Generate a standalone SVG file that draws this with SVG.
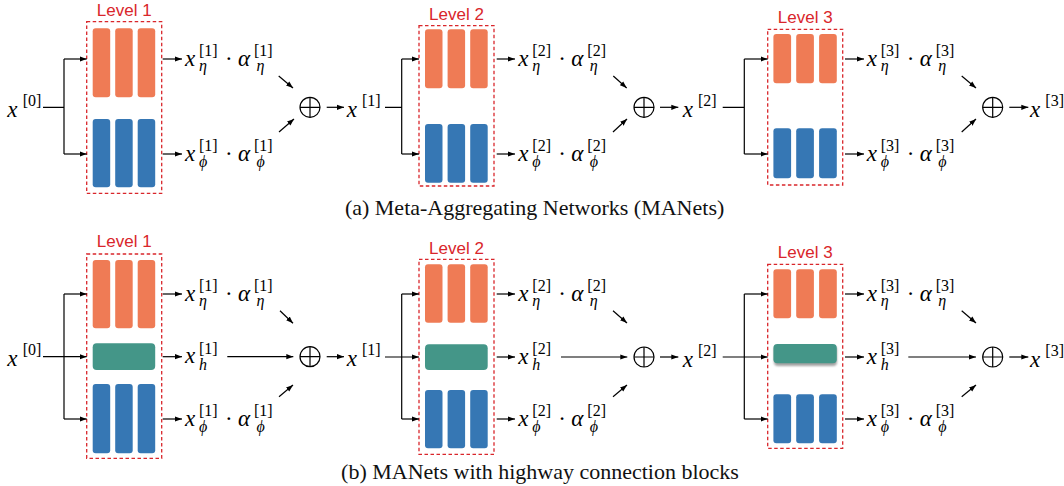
<svg xmlns="http://www.w3.org/2000/svg" width="1064" height="486" viewBox="0 0 1064 486">
<defs>
<marker id="ah" markerWidth="8" markerHeight="6" refX="7" refY="3" orient="auto" markerUnits="userSpaceOnUse"><path d="M0,0.4 L7,3 L0,5.6 z" fill="#000"/></marker>
<filter id="sh" x="-20%" y="-30%" width="140%" height="180%"><feGaussianBlur stdDeviation="1.2"/></filter>
<style>
.box{fill:none;stroke:#d9262b;stroke-width:1.3;stroke-dasharray:3.5 2.5}
.ttl{font-family:"Liberation Sans",Arial,sans-serif;font-size:17px;fill:#d9262b;text-anchor:middle}
.or{fill:#ef7b55}.bl{fill:#3677b4}.gr{fill:#449688}
.mi{font-family:"Liberation Serif","DejaVu Serif",serif;font-style:italic;font-size:23px;fill:#000}
.mr{font-family:"Liberation Serif","DejaVu Serif",serif;font-size:23px;fill:#000}
.si{font-family:"Liberation Serif","DejaVu Serif",serif;font-style:italic;font-size:16px;fill:#000}
.sr{font-family:"Liberation Serif","DejaVu Serif",serif;font-size:16px;fill:#000}
.ln{stroke:#000;stroke-width:1.2;fill:none}
.ar{marker-end:url(#ah)}
.cap{font-family:"Liberation Serif","Times New Roman",serif;font-size:22px;text-anchor:middle;fill:#111}
</style>
</defs>
<rect width="1064" height="486" fill="#fff"/>

<!-- ===== Row (a) ===== -->
<g id="a-level1">
<text class="ttl" x="124.2" y="16">Level 1</text>
<rect class="box" x="86.7" y="21.7" width="75" height="171.6"/>
<rect class="or" x="92.7" y="28.3" width="17.5" height="69" rx="3"/>
<rect class="or" x="115.2" y="28.3" width="17.5" height="69" rx="3"/>
<rect class="or" x="137.7" y="28.3" width="17.5" height="69" rx="3"/>
<rect class="bl" x="92.7" y="119" width="17.5" height="68.3" rx="3"/>
<rect class="bl" x="115.2" y="119" width="17.5" height="68.3" rx="3"/>
<rect class="bl" x="137.7" y="119" width="17.5" height="68.3" rx="3"/>
</g>
<g id="a-level2">
<text class="ttl" x="456.5" y="20">Level 2</text>
<rect class="box" x="419" y="25.7" width="75" height="160.3"/>
<rect class="or" x="425" y="29.3" width="17.5" height="59" rx="3"/>
<rect class="or" x="447.6" y="29.3" width="17.5" height="59" rx="3"/>
<rect class="or" x="470.2" y="29.3" width="17.5" height="59" rx="3"/>
<rect class="bl" x="425" y="124" width="17.5" height="58.7" rx="3"/>
<rect class="bl" x="447.6" y="124" width="17.5" height="58.7" rx="3"/>
<rect class="bl" x="470.2" y="124" width="17.5" height="58.7" rx="3"/>
</g>
<g id="a-level3">
<text class="ttl" x="805.2" y="23.3">Level 3</text>
<rect class="box" x="767.7" y="29.3" width="75" height="155.7"/>
<rect class="or" x="773.4" y="34" width="17.7" height="49.3" rx="3"/>
<rect class="or" x="796.2" y="34" width="17.7" height="49.3" rx="3"/>
<rect class="or" x="819.1" y="34" width="17.7" height="49.3" rx="3"/>
<rect class="bl" x="773.4" y="128.3" width="17.7" height="50" rx="3"/>
<rect class="bl" x="796.2" y="128.3" width="17.7" height="50" rx="3"/>
<rect class="bl" x="819.1" y="128.3" width="17.7" height="50" rx="3"/>
</g>

<g id="a-x0"><text class="mi" x="7.3" y="116.7">x</text><text class="sr" x="22.7" y="105.8">[0]</text></g>
<g id="a-x1"><text class="mi" x="346.7" y="116.7">x</text><text class="sr" x="362" y="105.8">[1]</text></g>
<g id="a-x2"><text class="mi" x="682.7" y="116.7">x</text><text class="sr" x="698" y="105.8">[2]</text></g>
<g id="a-x3"><text class="mi" x="1030" y="116.7">x</text><text class="sr" x="1045.3" y="105.8">[3]</text></g>

<g id="a-eta1"><text class="mi" x="185" y="65.5">x</text><text class="sr" x="199" y="56">[1]</text><text class="si" x="199" y="71">η</text><text class="mr" x="225" y="65.5">·</text><text class="mi" x="238" y="65.5">α</text><text class="sr" x="254" y="56">[1]</text><text class="si" x="256.5" y="71">η</text></g>
<g id="a-phi1"><text class="mi" x="185" y="160.5">x</text><text class="sr" x="199" y="151">[1]</text><text class="si" x="199" y="167">ϕ</text><text class="mr" x="225" y="160.5">·</text><text class="mi" x="238" y="160.5">α</text><text class="sr" x="254" y="151">[1]</text><text class="si" x="256.5" y="167">ϕ</text></g>
<g id="a-eta2"><text class="mi" x="518.3" y="65.5">x</text><text class="sr" x="532.3" y="56">[2]</text><text class="si" x="532.3" y="71">η</text><text class="mr" x="558.3" y="65.5">·</text><text class="mi" x="571.3" y="65.5">α</text><text class="sr" x="587.3" y="56">[2]</text><text class="si" x="589.8" y="71">η</text></g>
<g id="a-phi2"><text class="mi" x="518.3" y="160.5">x</text><text class="sr" x="532.3" y="151">[2]</text><text class="si" x="532.3" y="167">ϕ</text><text class="mr" x="558.3" y="160.5">·</text><text class="mi" x="571.3" y="160.5">α</text><text class="sr" x="587.3" y="151">[2]</text><text class="si" x="589.8" y="167">ϕ</text></g>
<g id="a-eta3"><text class="mi" x="866.7" y="65.5">x</text><text class="sr" x="880.7" y="56">[3]</text><text class="si" x="880.7" y="71">η</text><text class="mr" x="906.7" y="65.5">·</text><text class="mi" x="919.7" y="65.5">α</text><text class="sr" x="935.7" y="56">[3]</text><text class="si" x="938.2" y="71">η</text></g>
<g id="a-phi3"><text class="mi" x="866.7" y="160.5">x</text><text class="sr" x="880.7" y="151">[3]</text><text class="si" x="880.7" y="167">ϕ</text><text class="mr" x="906.7" y="160.5">·</text><text class="mi" x="919.7" y="160.5">α</text><text class="sr" x="935.7" y="151">[3]</text><text class="si" x="938.2" y="167">ϕ</text></g>

<g id="a-sum1" class="ln"><circle cx="310" cy="107.3" r="10"/><path d="M300,107.3H320M310,97.3V117.3"/></g>
<g id="a-sum2" class="ln"><circle cx="644" cy="107.3" r="10"/><path d="M634,107.3H654M644,97.3V117.3"/></g>
<g id="a-sum3" class="ln"><circle cx="992.7" cy="107.3" r="10"/><path d="M982.7,107.3H1002.7M992.7,97.3V117.3"/></g>

<!-- ===== Row (b) ===== -->
<g id="b-level1">
<text class="ttl" x="124.2" y="247">Level 1</text>
<rect class="box" x="86.7" y="254" width="75" height="204.3"/>
<rect class="or" x="92.7" y="260" width="17.5" height="68.3" rx="3"/>
<rect class="or" x="115.2" y="260" width="17.5" height="68.3" rx="3"/>
<rect class="or" x="137.7" y="260" width="17.5" height="68.3" rx="3"/>
<rect class="gr" x="92.7" y="343.3" width="62.5" height="26.7" rx="4"/>
<rect class="bl" x="92.7" y="384" width="17.5" height="69.3" rx="3"/>
<rect class="bl" x="115.2" y="384" width="17.5" height="69.3" rx="3"/>
<rect class="bl" x="137.7" y="384" width="17.5" height="69.3" rx="3"/>
</g>
<g id="b-level2">
<text class="ttl" x="456.5" y="254">Level 2</text>
<rect class="box" x="419" y="259.3" width="75" height="195"/>
<rect class="or" x="425" y="264.3" width="17.5" height="58.4" rx="3"/>
<rect class="or" x="447.6" y="264.3" width="17.5" height="58.4" rx="3"/>
<rect class="or" x="470.2" y="264.3" width="17.5" height="58.4" rx="3"/>
<rect class="gr" x="425" y="344.3" width="62.7" height="25.7" rx="4"/>
<rect class="bl" x="425" y="390" width="17.5" height="58.3" rx="3"/>
<rect class="bl" x="447.6" y="390" width="17.5" height="58.3" rx="3"/>
<rect class="bl" x="470.2" y="390" width="17.5" height="58.3" rx="3"/>
</g>
<g id="b-level3">
<text class="ttl" x="805.2" y="258.3">Level 3</text>
<rect class="box" x="767.7" y="264.3" width="75" height="184"/>
<rect class="or" x="773.4" y="269.3" width="17.7" height="49" rx="3"/>
<rect class="or" x="796.2" y="269.3" width="17.7" height="49" rx="3"/>
<rect class="or" x="819.1" y="269.3" width="17.7" height="49" rx="3"/>
<rect x="774" y="346" width="63" height="20" rx="4" fill="#666" opacity="0.6" filter="url(#sh)"/>
<rect class="gr" x="773.4" y="344" width="63.4" height="19.3" rx="4"/>
<rect class="bl" x="773.4" y="394.3" width="17.7" height="49" rx="3"/>
<rect class="bl" x="796.2" y="394.3" width="17.7" height="49" rx="3"/>
<rect class="bl" x="819.1" y="394.3" width="17.7" height="49" rx="3"/>
</g>

<g id="b-x0"><text class="mi" x="7.3" y="366.2">x</text><text class="sr" x="22.7" y="355.3">[0]</text></g>
<g id="b-x1"><text class="mi" x="346.7" y="366.2">x</text><text class="sr" x="362" y="355.3">[1]</text></g>
<g id="b-x2"><text class="mi" x="682.7" y="366.5">x</text><text class="sr" x="698" y="355.6">[2]</text></g>
<g id="b-x3"><text class="mi" x="1030" y="366.5">x</text><text class="sr" x="1045.3" y="355.6">[3]</text></g>

<g id="b-eta1"><text class="mi" x="185" y="300.5">x</text><text class="sr" x="199" y="291">[1]</text><text class="si" x="199" y="306">η</text><text class="mr" x="225" y="300.5">·</text><text class="mi" x="238" y="300.5">α</text><text class="sr" x="254" y="291">[1]</text><text class="si" x="256.5" y="306">η</text></g>
<g id="b-h1"><text class="mi" x="185" y="363.2">x</text><text class="sr" x="199" y="353.7">[1]</text><text class="si" x="199" y="369.5">h</text></g>
<g id="b-phi1"><text class="mi" x="185" y="425.5">x</text><text class="sr" x="199" y="416">[1]</text><text class="si" x="199" y="432">ϕ</text><text class="mr" x="225" y="425.5">·</text><text class="mi" x="238" y="425.5">α</text><text class="sr" x="254" y="416">[1]</text><text class="si" x="256.5" y="432">ϕ</text></g>
<g id="b-eta2"><text class="mi" x="518.3" y="300.5">x</text><text class="sr" x="532.3" y="291">[2]</text><text class="si" x="532.3" y="306">η</text><text class="mr" x="558.3" y="300.5">·</text><text class="mi" x="571.3" y="300.5">α</text><text class="sr" x="587.3" y="291">[2]</text><text class="si" x="589.8" y="306">η</text></g>
<g id="b-h2"><text class="mi" x="518.3" y="363.5">x</text><text class="sr" x="532.3" y="354">[2]</text><text class="si" x="532.3" y="369.8">h</text></g>
<g id="b-phi2"><text class="mi" x="518.3" y="425.5">x</text><text class="sr" x="532.3" y="416">[2]</text><text class="si" x="532.3" y="432">ϕ</text><text class="mr" x="558.3" y="425.5">·</text><text class="mi" x="571.3" y="425.5">α</text><text class="sr" x="587.3" y="416">[2]</text><text class="si" x="589.8" y="432">ϕ</text></g>
<g id="b-eta3"><text class="mi" x="866.7" y="300.5">x</text><text class="sr" x="880.7" y="291">[3]</text><text class="si" x="880.7" y="306">η</text><text class="mr" x="906.7" y="300.5">·</text><text class="mi" x="919.7" y="300.5">α</text><text class="sr" x="935.7" y="291">[3]</text><text class="si" x="938.2" y="306">η</text></g>
<g id="b-h3"><text class="mi" x="866.7" y="363.5">x</text><text class="sr" x="880.7" y="354">[3]</text><text class="si" x="880.7" y="369.8">h</text></g>
<g id="b-phi3"><text class="mi" x="866.7" y="425.5">x</text><text class="sr" x="880.7" y="416">[3]</text><text class="si" x="880.7" y="432">ϕ</text><text class="mr" x="906.7" y="425.5">·</text><text class="mi" x="919.7" y="425.5">α</text><text class="sr" x="935.7" y="416">[3]</text><text class="si" x="938.2" y="432">ϕ</text></g>

<g id="b-sum1" class="ln"><circle cx="310" cy="356.7" r="10"/><path d="M300,356.7H320M310,346.7V366.7"/></g>
<g id="b-sum2" class="ln"><circle cx="644" cy="357" r="10"/><path d="M634,357H654M644,347V367"/></g>
<g id="b-sum3" class="ln"><circle cx="992.7" cy="357" r="10"/><path d="M982.7,357H1002.7M992.7,347V367"/></g>

<!-- ===== Connectors ===== -->
<g id="connectors" class="ln">
<!-- row a panel 1 -->
<path d="M43,107.3H64M64,59V154"/>
<path class="ar" d="M64,59H86.7"/>
<path class="ar" d="M64,154H86.7"/>
<path class="ar" d="M162.7,59H182"/>
<path class="ar" d="M162.7,154H182"/>
<path class="ar" d="M278.7,76L293,88"/>
<path class="ar" d="M279,132L294,119"/>
<path class="ar" d="M326.7,107.3H344"/>
<!-- row a panel 2 -->
<path d="M385,107.3H401.7M401.7,59V154"/>
<path class="ar" d="M401.7,59H419"/>
<path class="ar" d="M401.7,154H419"/>
<path class="ar" d="M496.7,59H515"/>
<path class="ar" d="M496.7,154H515"/>
<path class="ar" d="M613.3,76L626.7,88"/>
<path class="ar" d="M613,132L627,119"/>
<path class="ar" d="M660,107.3H678.3"/>
<!-- row a panel 3 -->
<path d="M722.7,107.3H744.3M744.3,59V154"/>
<path class="ar" d="M744.3,59H767.7"/>
<path class="ar" d="M744.3,154H767.7"/>
<path class="ar" d="M845,59H864"/>
<path class="ar" d="M845,154H864"/>
<path class="ar" d="M961.7,76L976,88"/>
<path class="ar" d="M961.7,132L976,119"/>
<path class="ar" d="M1009.3,107.3H1028.3"/>
<!-- row b panel 1 -->
<path d="M64,294V419"/>
<path class="ar" d="M43,356.7H86.7"/>
<path class="ar" d="M64,294H86.7"/>
<path class="ar" d="M64,419H86.7"/>
<path class="ar" d="M162.7,294H182"/>
<path class="ar" d="M162.7,356.7H182"/>
<path class="ar" d="M162.7,419H182"/>
<path class="ar" d="M227.3,356.7H293.3"/>
<path class="ar" d="M280,310.7L293,323.3"/>
<path class="ar" d="M279,396.7L293,385"/>
<path class="ar" d="M326.7,356.7H344"/>
<!-- row b panel 2 -->
<path d="M401.7,294V419"/>
<path class="ar" d="M385,357H419"/>
<path class="ar" d="M401.7,294H419"/>
<path class="ar" d="M401.7,419H419"/>
<path class="ar" d="M496.7,294H515"/>
<path class="ar" d="M496.7,357H515"/>
<path class="ar" d="M496.7,419H515"/>
<path class="ar" d="M561,357H627.3"/>
<path class="ar" d="M613,310.7L627,323"/>
<path class="ar" d="M613,396.7L627,385"/>
<path class="ar" d="M660,357H678.3"/>
<!-- row b panel 3 -->
<path d="M744.3,294V419"/>
<path class="ar" d="M722.7,357H767.7"/>
<path class="ar" d="M744.3,294H767.7"/>
<path class="ar" d="M744.3,419H767.7"/>
<path class="ar" d="M845,294H864"/>
<path class="ar" d="M845,357H864"/>
<path class="ar" d="M845,419H864"/>
<path class="ar" d="M908.3,357H976"/>
<path class="ar" d="M961.7,310.7L976,323"/>
<path class="ar" d="M961.7,396.7L976,385"/>
<path class="ar" d="M1009.3,357H1028.3"/>
</g>

<text class="cap" x="534.6" y="215">(a) Meta-Aggregating Networks (MANets)</text>
<text class="cap" x="540" y="479">(b) MANets with highway connection blocks</text>
</svg>
